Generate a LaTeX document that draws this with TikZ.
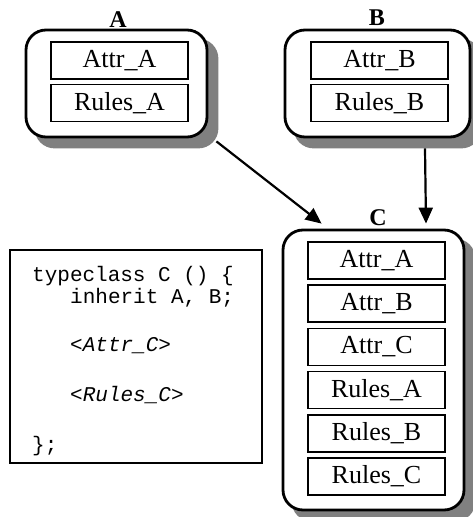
\documentclass[tikz,border=0pt]{standalone}
\usepackage{fontspec}
\setmainfont{Liberation Serif}
\setmonofont{Liberation Mono}
\usetikzlibrary{arrows.meta,backgrounds}

\begin{document}
\begin{tikzpicture}[x=1pt,y=1pt,
  outer/.style={draw,line width=2.8pt,rounded corners=20pt,fill=white},
  shade/.style={fill=black!50,rounded corners=20pt},
  field/.style={draw,line width=1.5pt,minimum width=137pt,minimum height=37pt,
    inner sep=0pt,font=\fontsize{26}{30}\selectfont},
  title/.style={font=\fontsize{24}{28}\selectfont\bfseries},
  code/.style={anchor=base west,inner sep=0pt,font=\fontsize{21}{25}\ttfamily},
  link/.style={line width=2.2pt,-{Triangle[length=16pt,width=14pt]}}]

\useasboundingbox (0,0) rectangle (473,517);

% Typeclass A
\node[outer,minimum width=181pt,minimum height=107pt] (boxA) at (116.5,433.5) {};
\node[title] (titleA) at (118,497) {A};
\node[field] (attrA) at (119.5,456.5) {Attr\_A};
\node[field] (rulesA) at (119.5,414) {Rules\_A};

% Typeclass B
\node[outer,minimum width=185pt,minimum height=107pt] (boxB) at (377.5,433.5) {};
\node[title] (titleB) at (377,499) {B};
\node[field] (attrB) at (379.5,456.5) {Attr\_B};
\node[field] (rulesB) at (379.5,414) {Rules\_B};

% Typeclass C
\node[outer,minimum width=181pt,minimum height=280pt] (boxC) at (373.5,147) {};
\node[title] (titleC) at (378,299) {C};
\node[field] (cAttrA) at (376.5,256.5) {Attr\_A};
\node[field] (cAttrB) at (376.5,213.3) {Attr\_B};
\node[field] (cAttrC) at (376.5,170.1) {Attr\_C};
\node[field] (cRulesA) at (376.5,126.9) {Rules\_A};
\node[field] (cRulesB) at (376.5,83.7) {Rules\_B};
\node[field] (cRulesC) at (376.5,40.5) {Rules\_C};

% shadows
\begin{scope}[on background layer]
\foreach \b in {boxA,boxB,boxC}
  \fill[shade] ([shift={(10,-10)}]\b.south west) rectangle ([shift={(10,-10)}]\b.north east);
\end{scope}

% inheritance
\coordinate (fromA) at ([shift={(8,-3)}]boxA.south east);
\coordinate (fromB) at ([shift={(47.5,-10)}]boxB.south);
\draw[link] (fromA) -- ([shift={(40,5)}]boxC.north west);
\draw[link] (fromB) -- ([shift={(52.5,5)}]boxC.north);

% Source code
\node[draw,line width=1.8pt,minimum width=252pt,minimum height=213pt] (src) at (136,160.5) {};
\node[code] (line1) at (32,235) {typeclass C () \{};
\node[code] (line2) at (70,213) {inherit A, B;};
\node[code] (line3) at (70,165) {<\textit{Attr\_C}>};
\node[code] (line4) at (70,115) {<\textit{Rules\_C}>};
\node[code] (line5) at (32,65) {\};};

\end{tikzpicture}
\end{document}
